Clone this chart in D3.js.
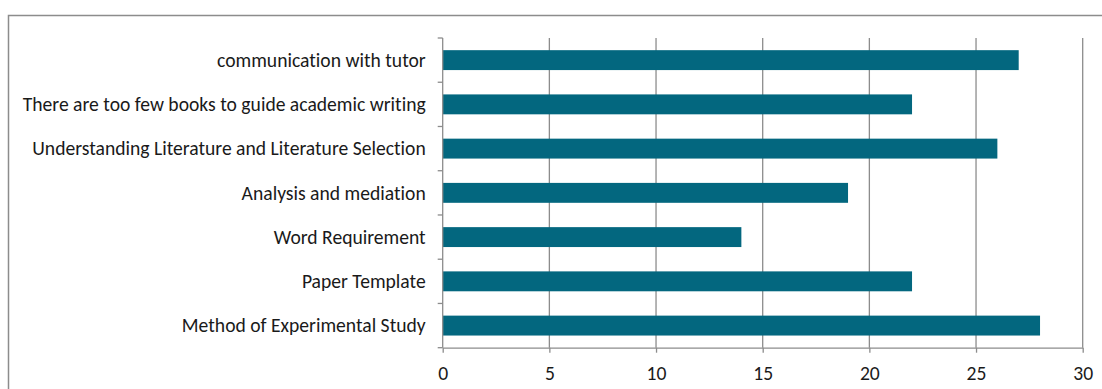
<!DOCTYPE html>
<html>
<head>
<meta charset="utf-8">
<script src="https://cdn.jsdelivr.net/npm/d3@7"></script>
<style>
  html, body { margin: 0; padding: 0; background: #fff; }
  svg { display: block; }
  text { font-family: Carlito, "Open Sans", sans-serif; fill: #1a1a1a;
         font-variant-ligatures: none; font-feature-settings: "liga" 0, "clig" 0; }
</style>
</head>
<body>
<svg id="chart" width="1102" height="389"></svg>
<script>
// Survey categories, top to bottom, with their counts
const categories = [
  "communication with tutor",
  "There are too few books to guide academic writing",
  "Understanding Literature and Literature Selection",
  "Analysis and mediation",
  "Word Requirement",
  "Paper Template",
  "Method of Experimental Study"
];
const counts = [27, 22, 26, 19, 14, 22, 28];
const xTicks = [0, 5, 10, 15, 20, 25, 30];

const svg = d3.select("#chart");
const plot = { left: 442.7, right: 1082.7, top: 38, bottom: 347.7 };
const gridColor = "#8c8c8c";

// Outer chart frame (right and bottom edges fall outside the view)
svg.append("rect")
  .attr("x", 8.5).attr("y", 15.5)
  .attr("width", 1200).attr("height", 500)
  .attr("fill", "none").attr("stroke", gridColor).attr("stroke-width", 1.5);

const x = d3.scaleLinear().domain([0, 30]).range([plot.left, plot.right]);
const y = d3.scaleBand().domain(categories).range([plot.top, plot.bottom]).paddingInner(0.55).paddingOuter(0.275);
const yEdges = d3.scaleBand().domain(categories).range([plot.top, plot.bottom]);

// Vertical gridlines
svg.append("g").selectAll("line")
  .data(xTicks.filter(t => t > 0))
  .join("line")
  .attr("x1", d => x(d)).attr("x2", d => x(d))
  .attr("y1", plot.top).attr("y2", plot.bottom)
  .attr("stroke", gridColor).attr("stroke-width", 1.3);

// Bars
svg.append("g").selectAll("rect")
  .data(categories)
  .join("rect")
  .attr("x", x(0))
  .attr("y", d => y(d))
  .attr("width", (d, i) => x(counts[i]) - x(0))
  .attr("height", y.bandwidth())
  .attr("fill", "#03677f");

// Left category axis with ticks at band edges
const yAxisG = svg.append("g").attr("transform", `translate(${plot.left},0)`);
yAxisG.append("line")
  .attr("x1", 0).attr("x2", 0).attr("y1", plot.top).attr("y2", plot.bottom)
  .attr("stroke", gridColor).attr("stroke-width", 1.3);
const edgeYs = categories.map(c => yEdges(c)).concat([plot.bottom]);
yAxisG.selectAll("line.edge")
  .data(edgeYs)
  .join("line").attr("class", "edge")
  .attr("x1", -5).attr("x2", 0)
  .attr("y1", d => d).attr("y2", d => d)
  .attr("stroke", gridColor).attr("stroke-width", 1.3);
const labels = yAxisG.selectAll("text")
  .data(categories)
  .join("text")
  .attr("x", -17)
  .attr("y", d => y(d) + y.bandwidth() / 2)
  .attr("dy", "0.35em")
  .attr("text-anchor", "end")
  .attr("font-size", 16)
  .text(d => d);

// Size the label font so the longest label spans the space left of the axis
const longest = d3.max(labels.nodes(), n => n.getComputedTextLength());
const fontSize = 16 * 403 / longest;
labels.attr("font-size", fontSize);

// Bottom value axis
const xAxis = svg.append("g")
  .attr("transform", `translate(0,${plot.bottom})`)
  .call(d3.axisBottom(x).tickValues(xTicks).tickSize(5).tickPadding(13).tickSizeOuter(0));
xAxis.select(".domain").attr("stroke", gridColor).attr("stroke-width", 1.3);
xAxis.selectAll(".tick line").attr("stroke", gridColor).attr("stroke-width", 1.3);
xAxis.selectAll(".tick text").attr("font-size", fontSize).attr("fill", "#1a1a1a")
  .style("font-family", "Carlito, 'Open Sans', sans-serif");
</script>
</body>
</html>
